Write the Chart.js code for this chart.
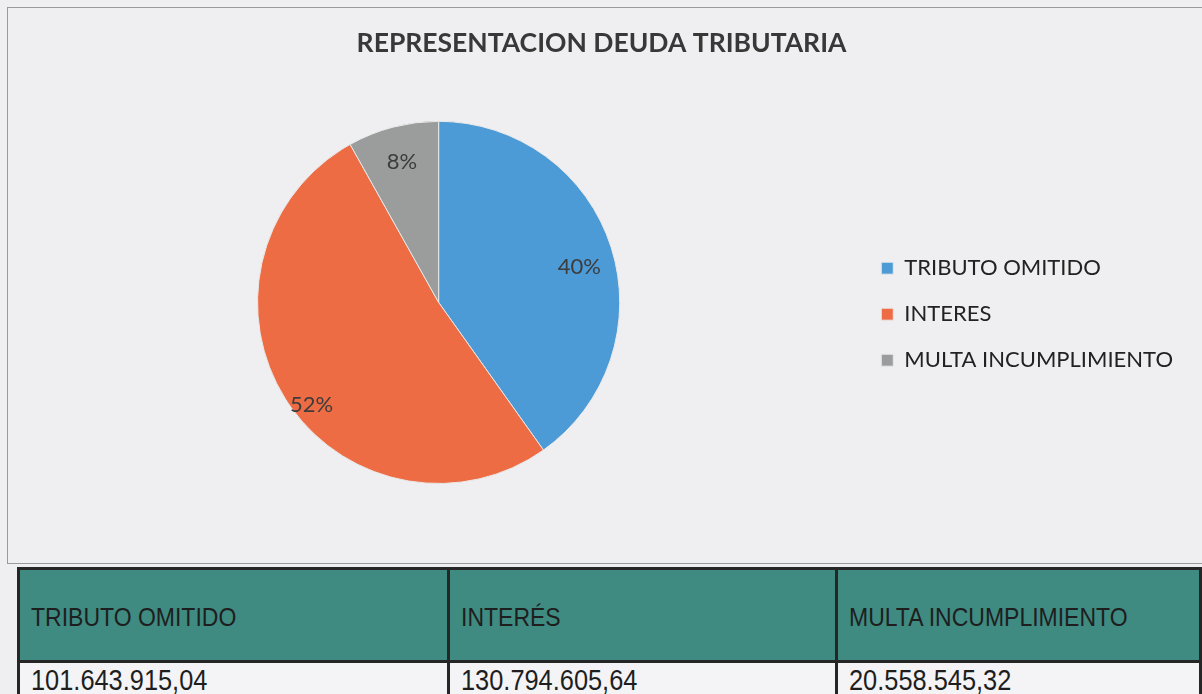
<!DOCTYPE html>
<html>
<head>
<meta charset="utf-8">
<script src="https://cdn.jsdelivr.net/npm/chart.js@4.4.1/dist/chart.umd.min.js"></script>
<style>
  html, body { margin:0; padding:0; }
  body { width:1202px; height:694px; background:#efeff1; position:relative; overflow:hidden; }
  #box { position:absolute; left:7px; top:7px; width:1200px; height:557px; border:1px solid #9a9a9a; box-sizing:border-box; }
  #wrap { position:absolute; left:8px; top:8px; width:1194px; height:556px; }
  table { position:absolute; left:17px; top:567px; border-collapse:collapse; table-layout:fixed; font-family:"Liberation Sans",Arial,sans-serif; color:#1e1e1e; }
  td { border:3px solid #262626; padding:0 0 0 11px; white-space:nowrap; overflow:hidden; box-sizing:border-box; }
  td span { display:inline-block; transform-origin:left center; }
  tr.h td { background:#3f8b81; height:93px; font-size:25px; vertical-align:middle; padding-top:4px; }
  tr.h td span { transform:scaleX(0.92); }
  tr.v td { background:#f4f4f6; height:40px; font-size:29px; line-height:29px; vertical-align:top; padding-top:3px; }
  tr.v td span { transform:scaleX(0.875); }
</style>
</head>
<body>
<div id="box"></div>
<div id="wrap"><canvas id="c"></canvas></div>
<table id="tbl"></table>
<script>
const categories = ['TRIBUTO OMITIDO', 'INTERES', 'MULTA INCUMPLIMIENTO'];
const amounts = [101643915.04, 130794605.64, 20558545.32];
const sliceColors = ['#4d9bd6', '#ee6c44', '#9b9c9c'];
const tableHeaders = ['TRIBUTO OMITIDO', 'INTERÉS', 'MULTA INCUMPLIMIENTO'];
const tableValues = ['101.643.915,04', '130.794.605,64', '20.558.545,32'];
const chartTitle = 'REPRESENTACION DEUDA TRIBUTARIA';

// table
const tbl = document.getElementById('tbl');
const colW = [430, 388, 364];
let h = '<colgroup>' + colW.map(w => `<col style="width:${w}px">`).join('') + '</colgroup>';
h += '<tr class="h">' + tableHeaders.map(t => `<td><span>${t}</span></td>`).join('') + '</tr>';
h += '<tr class="v">' + tableValues.map(t => `<td><span>${t}</span></td>`).join('') + '</tr>';
tbl.innerHTML = h;
tbl.style.width = colW.reduce((a, b) => a + b, 0) + 'px';

const pctLabels = {
  id: 'pctLabels',
  afterDatasetsDraw(chart, args, opts) {
    const ctx = chart.ctx;
    const meta = chart.getDatasetMeta(0);
    const data = chart.data.datasets[0].data;
    const total = data.reduce((a, b) => a + b, 0);
    ctx.save();
    ctx.font = opts.font;
    ctx.fillStyle = opts.color;
    ctx.textAlign = 'center';
    ctx.textBaseline = 'middle';
    meta.data.forEach((arc, i) => {
      const p = arc.getProps(['x', 'y', 'startAngle', 'endAngle', 'outerRadius'], true);
      const mid = (p.startAngle + p.endAngle) / 2 + opts.angleShift[i] * Math.PI / 180;
      const r = p.outerRadius * opts.factors[i];
      const txt = Math.round(data[i] / total * 100) + '%';
      ctx.fillText(txt, p.x + Math.cos(mid) * r, p.y + Math.sin(mid) * r);
    });
    ctx.restore();
  }
};

new Chart(document.getElementById('c'), {
  type: 'pie',
  data: {
    labels: categories,
    datasets: [{ data: amounts, backgroundColor: sliceColors, borderColor: '#e8e8e8', borderWidth: 1 }]
  },
  options: {
    responsive: true,
    maintainAspectRatio: false,
    animation: false,
    layout: { padding: { left: 12, right: 19, top: 0, bottom: 80 } },
    plugins: {
      title: {
        display: true, text: chartTitle, color: '#383838',
        font: { family: 'Lato', size: 26.5, weight: 'bold' },
        padding: { top: 20, bottom: 61 }
      },
      legend: {
        position: 'right',
        title: { display: true, text: '', font: { size: 12 }, padding: { top: 122, bottom: 0 } },
        labels: {
          color: '#222', boxWidth: 12, boxHeight: 12, padding: 24,
          font: { family: 'Lato', size: 22 }
        }
      },
      tooltip: { enabled: false },
      pctLabels: { font: '22px Lato', color: '#3c3c3c', factors: [0.8, 0.9, 0.8], angleShift: [3.7, -6.5, 0] }
    }
  },
  plugins: [pctLabels]
});
</script>
</body>
</html>
